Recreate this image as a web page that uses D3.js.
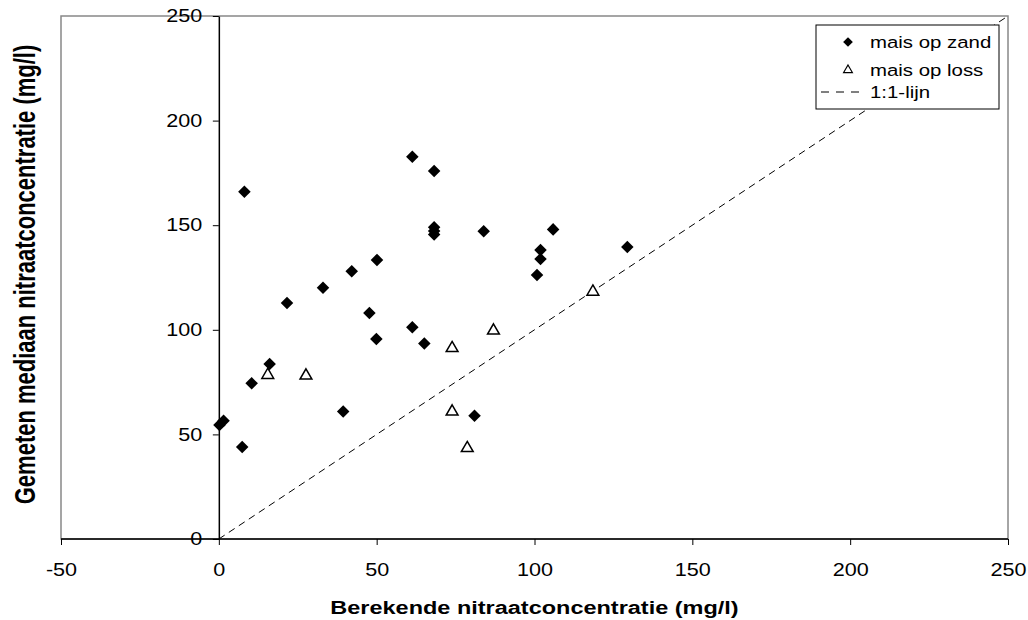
<!DOCTYPE html>
<html>
<head>
<meta charset="utf-8">
<script src="https://cdn.jsdelivr.net/npm/d3@7"></script>
<style>
  body { margin: 0; background: #fff; }
  text { font-family: Arial, "Liberation Sans", sans-serif; }
</style>
</head>
<body>
<div id="container"></div>
<script>
/* CONSTANTS AND GLOBALS */
const width = 1028, height = 620,
  margin = { top: 16, right: 20, bottom: 81, left: 61 };
const stretch = 1.2; // text in the picture is a bit wider than normal

// mais op zand (diamonds): berekend / gemeten
const zandX = [8.1, 61.3, 68.2, 68.2, 68.2, 68.2, 83.9, 50.1, 42.1, 33.0, 21.6, 47.7, 61.3, 49.9, 65.1,
  16.1, 10.4, 39.4, 81.0, 0.2, 1.5, 7.4, 105.9, 101.9, 101.9, 100.8, 129.4];
const zandY = [166.0, 182.7, 175.9, 149.0, 147.2, 145.6, 147.1, 133.4, 128.0, 120.1, 112.8, 108.0, 101.2, 95.6, 93.5,
  83.7, 74.4, 60.9, 58.9, 54.5, 56.5, 44.0, 148.0, 138.1, 133.8, 126.2, 139.6];

// mais op loss (triangles)
const lossX = [15.5, 27.6, 73.9, 87.0, 73.9, 78.7, 118.5];
const lossY = [78.4, 78.1, 91.2, 99.6, 60.9, 43.4, 118.2];

const xTicks = [-50, 0, 50, 100, 150, 200, 250];
const yTicks = [0, 50, 100, 150, 200, 250];
const legendLabels = ["mais op zand", "mais op loss", "1:1-lijn"];

const svg = d3.select("#container")
  .append("svg")
  .attr("width", width)
  .attr("height", height);

const x = d3.scaleLinear().domain([-50, 250]).range([margin.left, width - margin.right]);
const y = d3.scaleLinear().domain([0, 250]).range([height - margin.bottom, margin.top]);

// plot area border
svg.append("rect")
  .attr("x", x(-50)).attr("y", y(250))
  .attr("width", x(250) - x(-50)).attr("height", y(0) - y(250))
  .attr("fill", "none").attr("stroke", "#888").attr("stroke-width", 1.5);

// 1:1 line
svg.append("line")
  .attr("x1", x(0)).attr("y1", y(0))
  .attr("x2", x(250)).attr("y2", y(250))
  .attr("stroke", "#000").attr("stroke-width", 1)
  .attr("stroke-dasharray", "7,5");

// AXES
const xAxis = svg.append("g")
  .attr("transform", `translate(0,${y(0)})`)
  .call(d3.axisBottom(x).tickValues(xTicks).tickFormat(d => String(d)).tickSize(6).tickSizeOuter(0));
const yAxis = svg.append("g")
  .attr("transform", `translate(${x(0)},0)`)
  .call(d3.axisLeft(y).tickValues(yTicks).tickFormat(d => String(d)).tickSize(6).tickSizeOuter(0));

[xAxis, yAxis].forEach(g => {
  g.select(".domain").attr("stroke", "#000").attr("stroke-width", 1.5);
  g.selectAll(".tick line").attr("stroke", "#000");
  g.selectAll(".tick text").attr("font-size", 18).attr("fill", "#000")
    .attr("font-family", "Arial, 'Liberation Sans', sans-serif")
    .attr("transform", `scale(${stretch},1)`);
});
xAxis.selectAll(".tick text").attr("y", 24).attr("dy", "0.71em");
yAxis.selectAll(".tick text").attr("x", -16.5 / stretch);
// x axis line spans the whole width
xAxis.select(".domain").attr("d", `M${x(-50)},0H${x(250)}`);

// axis titles
svg.append("text")
  .attr("transform", `translate(${x(100)},614) scale(1.27,1)`)
  .attr("text-anchor", "middle")
  .attr("font-size", 18.5).attr("font-weight", "bold")
  .text("Berekende nitraatconcentratie (mg/l)");

svg.append("text")
  .attr("transform", `translate(35,${(y(0) + y(250)) / 2 - 3}) scale(1.35,1) rotate(-90)`)
  .attr("text-anchor", "middle")
  .attr("font-size", 22).attr("font-weight", "bold")
  .text("Gemeten mediaan nitraatconcentratie (mg/l)");

// POINTS
const diamond = d3.symbol().type(d3.symbolDiamond2).size(100);
const triangle = d3.symbol().type(d3.symbolTriangle2).size(100);

svg.selectAll("path.zand")
  .data(d3.zip(zandX, zandY))
  .join("path")
  .attr("class", "zand")
  .attr("d", diamond)
  .attr("transform", d => `translate(${x(d[0])},${y(d[1])})`)
  .attr("fill", "#000");

svg.selectAll("path.loss")
  .data(d3.zip(lossX, lossY))
  .join("path")
  .attr("class", "loss")
  .attr("d", triangle)
  .attr("transform", d => `translate(${x(d[0])},${y(d[1])})`)
  .attr("fill", "#fff").attr("stroke", "#000").attr("stroke-width", 1.5);

// LEGEND
const legend = svg.append("g").attr("transform", "translate(816,25)");
legend.append("rect")
  .attr("width", 183).attr("height", 84)
  .attr("fill", "#fff").attr("stroke", "#000").attr("stroke-width", 1);

const rowY = [17, 45, 67];
legend.append("path").attr("d", d3.symbol().type(d3.symbolDiamond2).size(60))
  .attr("transform", `translate(32,${rowY[0]})`).attr("fill", "#000");
legend.append("path").attr("d", d3.symbol().type(d3.symbolTriangle2).size(55))
  .attr("transform", `translate(32,${rowY[1]})`).attr("fill", "#fff").attr("stroke", "#000").attr("stroke-width", 1.2);
legend.append("line")
  .attr("x1", 5).attr("x2", 47).attr("y1", rowY[2]).attr("y2", rowY[2])
  .attr("stroke", "#000").attr("stroke-dasharray", "8,7");

legend.selectAll("text.lbl")
  .data(legendLabels)
  .join("text")
  .attr("class", "lbl")
  .attr("transform", (d, i) => `translate(54,${rowY[i]}) scale(${stretch},1)`)
  .attr("dy", "0.35em")
  .attr("font-size", 17)
  .text(d => d);
</script>
</body>
</html>
